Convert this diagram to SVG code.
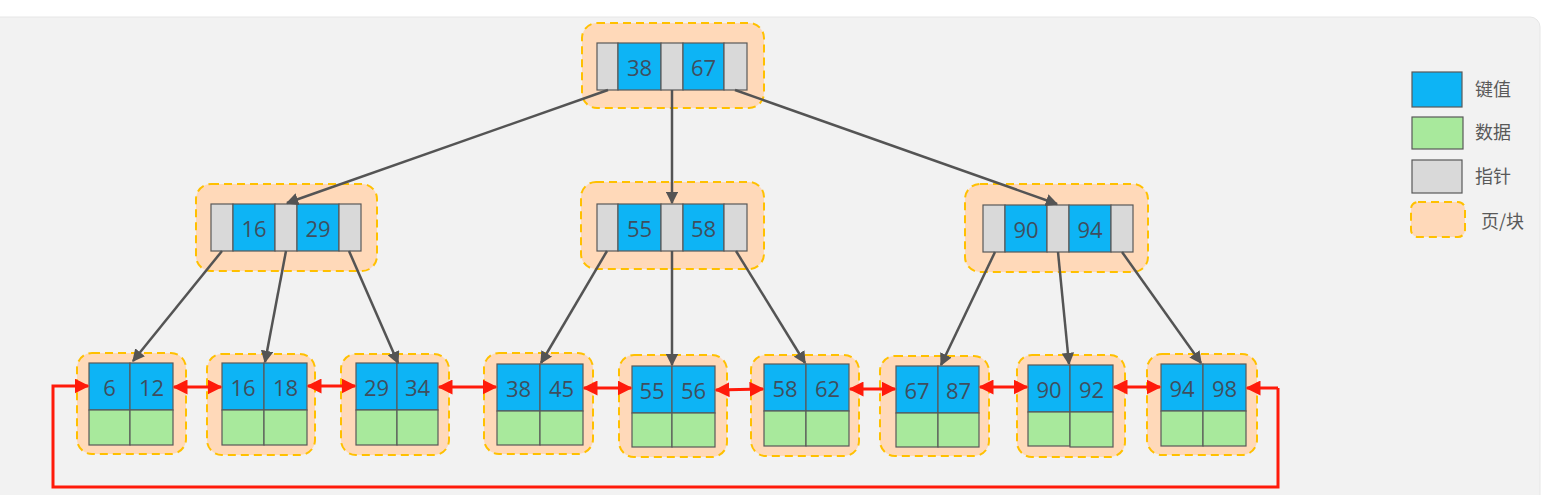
<svg xmlns="http://www.w3.org/2000/svg" width="1553" height="495" viewBox="0 0 1553 495">
<defs>
<style>
.bg{fill:#f2f2f2;stroke:#e6e6e6;stroke-width:1}
.page{fill:#ffd9b9;stroke:#ffc000;stroke-width:2;stroke-dasharray:8 5}
.key{fill:#0db4f5;stroke:#595959;stroke-width:1.2}
.dat{fill:#a8e99c;stroke:#595959;stroke-width:1.2}
.ptr{fill:#d9d9d9;stroke:#595959;stroke-width:1.2}
.num{font-family:"Open Sans","Noto Sans","DejaVu Sans",sans-serif;font-size:22px;fill:#3f4e5e;text-anchor:middle;dominant-baseline:central}
.lbl{font-family:"Noto Sans CJK SC","Noto Sans",sans-serif;font-size:18px;fill:#595959;dominant-baseline:central}
.tree{stroke:#545454;stroke-width:2.5;fill:none;marker-end:url(#ga)}
.link{stroke:#ff1a0a;stroke-width:3;fill:none;marker-start:url(#rs);marker-end:url(#ra)}
.loop{stroke:#ff1a0a;stroke-width:3;fill:none;marker-end:url(#ra)}
</style>
<marker id="ga" viewBox="0 0 10 10" refX="9" refY="5" markerWidth="5" markerHeight="5" orient="auto" markerUnits="strokeWidth"><path d="M0,0 L10,5 L0,10 z" fill="#545454"/></marker>
<marker id="ra" viewBox="0 0 10 10" refX="9" refY="5" markerWidth="5" markerHeight="5" orient="auto" markerUnits="strokeWidth"><path d="M0,0 L10,5 L0,10 z" fill="#ff1a0a"/></marker>
<marker id="rs" viewBox="0 0 10 10" refX="1" refY="5" markerWidth="5" markerHeight="5" orient="auto" markerUnits="strokeWidth"><path d="M10,0 L0,5 L10,10 z" fill="#ff1a0a"/></marker>
</defs>
<rect x="-10" y="17" width="1550" height="490" rx="10" class="bg"/>

<g id="root">
<rect x="582" y="23" width="182" height="85" rx="15" class="page"/>
<rect x="597" y="43" width="21" height="47" class="ptr"/>
<rect x="618" y="43" width="43" height="47" class="key"/>
<rect x="661" y="43" width="22" height="47" class="ptr"/>
<rect x="683" y="43" width="41" height="47" class="key"/>
<rect x="724" y="43" width="23" height="47" class="ptr"/>
<text x="639.5" y="67" class="num">38</text>
<text x="703.5" y="67" class="num">67</text>
</g>

<g id="mid-left">
<rect x="196" y="184" width="181" height="87" rx="15" class="page"/>
<rect x="211" y="204" width="22" height="47" class="ptr"/>
<rect x="233" y="204" width="42" height="47" class="key"/>
<rect x="275" y="204" width="22" height="47" class="ptr"/>
<rect x="297" y="204" width="42" height="47" class="key"/>
<rect x="339" y="204" width="22" height="47" class="ptr"/>
<text x="254" y="228" class="num">16</text>
<text x="318" y="228" class="num">29</text>
</g>

<g id="mid-center">
<rect x="581" y="182" width="183" height="87" rx="15" class="page"/>
<rect x="597" y="204" width="21" height="47" class="ptr"/>
<rect x="618" y="204" width="43" height="47" class="key"/>
<rect x="661" y="204" width="22" height="47" class="ptr"/>
<rect x="683" y="204" width="41" height="47" class="key"/>
<rect x="724" y="204" width="23" height="47" class="ptr"/>
<text x="639.5" y="228" class="num">55</text>
<text x="703.5" y="228" class="num">58</text>
</g>

<g id="mid-right">
<rect x="965" y="184" width="183" height="88" rx="15" class="page"/>
<rect x="983" y="205" width="22" height="47" class="ptr"/>
<rect x="1005" y="205" width="42" height="47" class="key"/>
<rect x="1047" y="205" width="22" height="47" class="ptr"/>
<rect x="1069" y="205" width="42" height="47" class="key"/>
<rect x="1111" y="205" width="22" height="47" class="ptr"/>
<text x="1026" y="229" class="num">90</text>
<text x="1090" y="229" class="num">94</text>
</g>

<g id="leaf1">
<rect x="77" y="353" width="109" height="101" rx="15" class="page"/>
<rect x="89" y="363" width="41" height="47" class="key"/><rect x="130" y="363" width="43" height="47" class="key"/>
<rect x="89" y="410" width="41" height="35" class="dat"/><rect x="130" y="410" width="43" height="35" class="dat"/>
<text x="109.5" y="387" class="num">6</text><text x="151.5" y="387" class="num">12</text>
</g>
<g id="leaf2">
<rect x="207" y="354" width="108" height="101" rx="15" class="page"/>
<rect x="222" y="363" width="42" height="47" class="key"/><rect x="264" y="363" width="43" height="47" class="key"/>
<rect x="222" y="410" width="42" height="35" class="dat"/><rect x="264" y="410" width="43" height="35" class="dat"/>
<text x="243" y="387" class="num">16</text><text x="285.5" y="387" class="num">18</text>
</g>
<g id="leaf3">
<rect x="341" y="354" width="108" height="101" rx="15" class="page"/>
<rect x="356" y="363" width="41" height="47" class="key"/><rect x="397" y="363" width="41" height="47" class="key"/>
<rect x="356" y="410" width="41" height="35" class="dat"/><rect x="397" y="410" width="41" height="35" class="dat"/>
<text x="376.5" y="387" class="num">29</text><text x="417.5" y="387" class="num">34</text>
</g>
<g id="leaf4">
<rect x="484" y="353" width="109" height="101" rx="15" class="page"/>
<rect x="497" y="364" width="43" height="47" class="key"/><rect x="540" y="364" width="43" height="47" class="key"/>
<rect x="497" y="411" width="43" height="34" class="dat"/><rect x="540" y="411" width="43" height="34" class="dat"/>
<text x="518.5" y="388" class="num">38</text><text x="561.5" y="388" class="num">45</text>
</g>
<g id="leaf5">
<rect x="619" y="355" width="108" height="102" rx="15" class="page"/>
<rect x="632" y="366" width="40" height="47" class="key"/><rect x="672" y="366" width="43" height="47" class="key"/>
<rect x="632" y="413" width="40" height="34" class="dat"/><rect x="672" y="413" width="43" height="34" class="dat"/>
<text x="652" y="390" class="num">55</text><text x="693.5" y="390" class="num">56</text>
</g>
<g id="leaf6">
<rect x="751" y="355" width="108" height="101" rx="15" class="page"/>
<rect x="764" y="364" width="42" height="47" class="key"/><rect x="806" y="364" width="43" height="47" class="key"/>
<rect x="764" y="411" width="42" height="35" class="dat"/><rect x="806" y="411" width="43" height="35" class="dat"/>
<text x="785" y="388" class="num">58</text><text x="827.5" y="388" class="num">62</text>
</g>
<g id="leaf7">
<rect x="880" y="356" width="109" height="100" rx="15" class="page"/>
<rect x="896" y="366" width="42" height="47" class="key"/><rect x="938" y="366" width="41" height="47" class="key"/>
<rect x="896" y="413" width="42" height="34" class="dat"/><rect x="938" y="413" width="41" height="34" class="dat"/>
<text x="917" y="390" class="num">67</text><text x="958.5" y="390" class="num">87</text>
</g>
<g id="leaf8">
<rect x="1017" y="355" width="108" height="102" rx="15" class="page"/>
<rect x="1028" y="365" width="42" height="47" class="key"/><rect x="1070" y="365" width="43" height="47" class="key"/>
<rect x="1028" y="412" width="42" height="34" class="dat"/><rect x="1070" y="412" width="43" height="35" class="dat"/>
<text x="1049" y="389" class="num">90</text><text x="1091.5" y="389" class="num">92</text>
</g>
<g id="leaf9">
<rect x="1147" y="354" width="110" height="101" rx="15" class="page"/>
<rect x="1161" y="364" width="42" height="47" class="key"/><rect x="1203" y="364" width="43" height="47" class="key"/>
<rect x="1161" y="411" width="42" height="35" class="dat"/><rect x="1203" y="411" width="43" height="35" class="dat"/>
<text x="1182" y="388" class="num">94</text><text x="1224.5" y="388" class="num">98</text>
</g>

<g id="connectors">
<line x1="608" y1="90" x2="287" y2="203" class="tree"/>
<line x1="672" y1="90" x2="672" y2="203" class="tree"/>
<line x1="735" y1="90" x2="1057" y2="204" class="tree"/>
<line x1="222" y1="251" x2="133" y2="361" class="tree"/>
<line x1="286" y1="251" x2="265" y2="362" class="tree"/>
<line x1="349" y1="251" x2="398" y2="363" class="tree"/>
<line x1="607" y1="251" x2="541" y2="363" class="tree"/>
<line x1="672" y1="251" x2="672" y2="365" class="tree"/>
<line x1="736" y1="251" x2="805" y2="363" class="tree"/>
<line x1="995" y1="252" x2="941" y2="365" class="tree"/>
<line x1="1058" y1="252" x2="1069" y2="364" class="tree"/>
<line x1="1122" y1="252" x2="1201" y2="363" class="tree"/>

<line x1="174" y1="387" x2="221" y2="387" class="link"/>
<line x1="308" y1="386" x2="355" y2="386" class="link"/>
<line x1="439" y1="387" x2="496" y2="387" class="link"/>
<line x1="584" y1="388" x2="631" y2="388" class="link"/>
<line x1="716" y1="390" x2="763" y2="389" class="link"/>
<line x1="850" y1="389" x2="895" y2="389" class="link"/>
<line x1="980" y1="387" x2="1027" y2="387" class="link"/>
<line x1="1114" y1="387" x2="1160" y2="387" class="link"/>
<polyline points="1278,388 1278,487 53,487 53,386 88,386" class="loop"/>
<polyline points="1278,388 1247,388" class="loop"/>
</g>

<g id="legend">
<rect x="1412" y="72" width="50" height="35" class="key"/>
<rect x="1412" y="117" width="51" height="32" class="dat"/>
<rect x="1412" y="160" width="50" height="33" class="ptr"/>
<rect x="1411" y="202" width="54" height="35" rx="7" class="page"/>
<text x="1475" y="88" class="lbl">键值</text>
<text x="1475" y="131" class="lbl">数据</text>
<text x="1475" y="175" class="lbl">指针</text>
<text x="1481" y="220" class="lbl">页/块</text>
</g>
</svg>
